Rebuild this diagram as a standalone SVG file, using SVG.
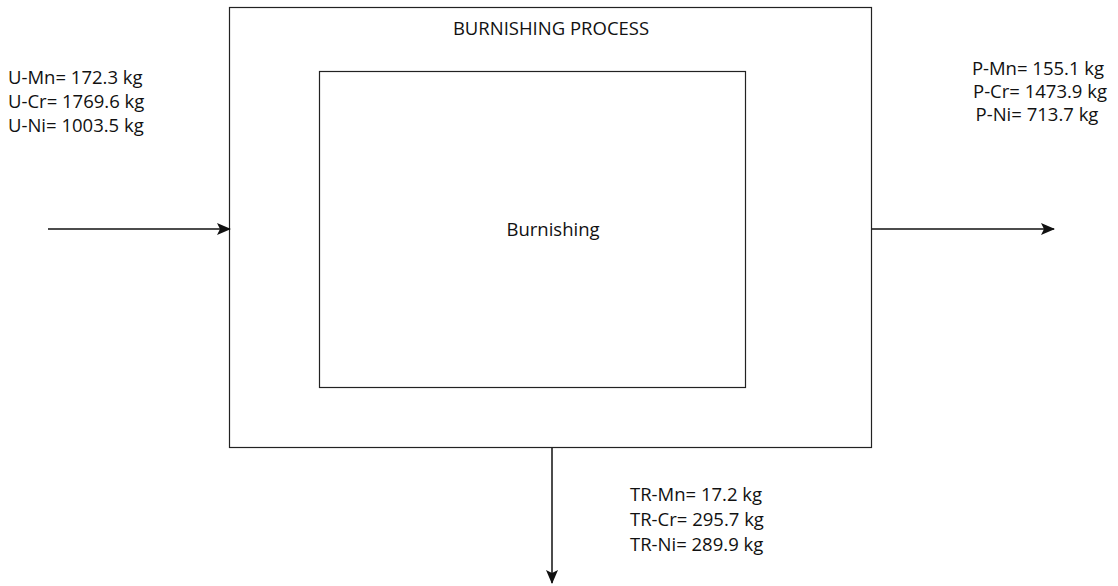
<svg xmlns="http://www.w3.org/2000/svg" width="1118" height="586" viewBox="0 0 1118 586">
<style>
text{font-family:"Open Sans","Liberation Sans",sans-serif;font-size:18.5px;fill:#111}
.box{fill:#fff;stroke:#222;stroke-width:1.2}
.c{stroke:#111;stroke-width:1.5;fill:none;marker-end:url(#ah)}
</style>
<defs>
<marker id="ah" markerWidth="14" markerHeight="12" refX="13" refY="6" orient="auto" markerUnits="userSpaceOnUse">
<path d="M0,0 L14,6 L0,12 L3,6 Z" fill="#111"/>
</marker>
</defs>
<rect width="1118" height="586" fill="#fff"/>
<g id="outer">
<rect class="box" x="229.5" y="7.5" width="642" height="440"/>
<text x="551" y="35" text-anchor="middle">BURNISHING PROCESS</text>
</g>
<g id="inner">
<rect class="box" x="319.5" y="71.5" width="426" height="316"/>
<text x="553" y="236" text-anchor="middle">Burnishing</text>
</g>
<g id="connectors">
<line class="c" x1="48" y1="229" x2="230" y2="229"/>
<line class="c" x1="872" y1="229" x2="1054" y2="229"/>
<line class="c" x1="552" y1="448" x2="552" y2="583"/>
</g>
<g id="input-labels">
<text x="8" y="84">U-Mn= 172.3 kg</text>
<text x="8" y="108">U-Cr= 1769.6 kg</text>
<text x="8" y="132">U-Ni= 1003.5 kg</text>
</g>
<g id="product-labels" text-anchor="middle">
<text x="1038" y="75">P-Mn= 155.1 kg</text>
<text x="1040" y="98">P-Cr= 1473.9 kg</text>
<text x="1037" y="121">P-Ni= 713.7 kg</text>
</g>
<g id="residue-labels">
<text x="630" y="501">TR-Mn= 17.2 kg</text>
<text x="630" y="526">TR-Cr= 295.7 kg</text>
<text x="630" y="551">TR-Ni= 289.9 kg</text>
</g>
</svg>
